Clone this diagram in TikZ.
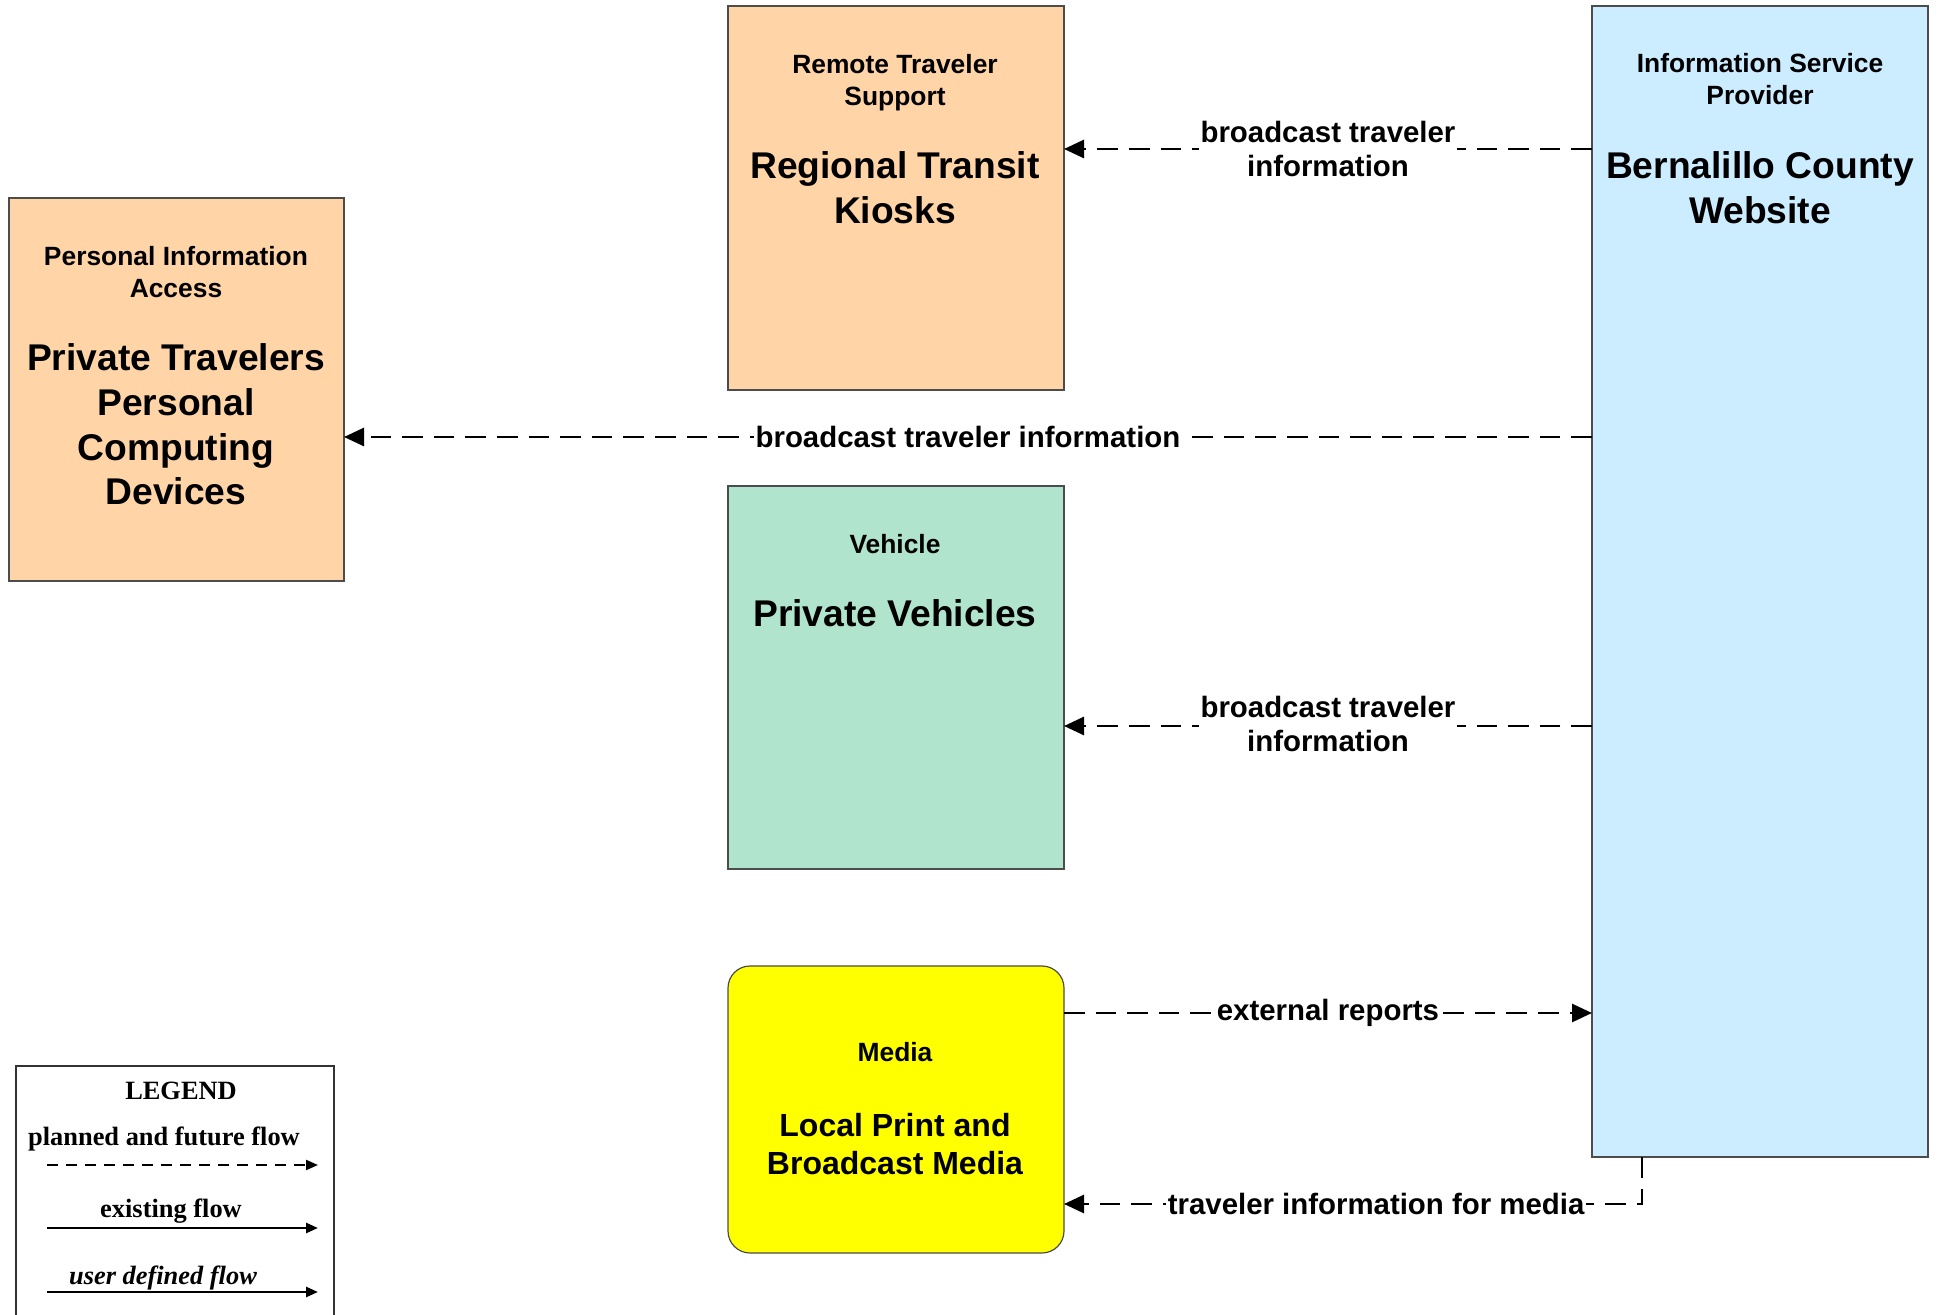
\documentclass[tikz,border=0pt]{standalone}
\usepackage{fontspec}
\setmainfont{Liberation Sans}
\newfontfamily\legendfont{Liberation Serif}
\usetikzlibrary{arrows.meta}
\definecolor{peach}{RGB}{255,213,168}
\definecolor{vgreen}{RGB}{176,228,204}
\definecolor{ispblue}{RGB}{204,236,255}
\definecolor{myyellow}{RGB}{255,255,0}
\begin{document}
\begin{tikzpicture}[x=0.5pt,y=-0.5pt,
  box/.style={draw=black!70, line width=0.6pt, anchor=north west, inner sep=0pt, outer sep=0pt},
  small/.style={align=center, font=\fontsize{13.2}{16}\selectfont\bfseries},
  big/.style={align=center, font=\fontsize{18.6}{22.3}\selectfont\bfseries},
  mbig/.style={align=center, font=\fontsize{16}{19}\selectfont\bfseries},
  lab/.style={fill=white, align=center, inner sep=0.8pt, font=\fontsize{14.7}{17.3}\selectfont\bfseries},
  flow/.style={draw, line width=1.4pt, dash pattern=on 10.3pt off 5.5pt, -{Triangle[length=10pt,width=9pt]}},
  legtext/.style={font=\fontsize{13.2}{16}\selectfont\legendfont\bfseries},
  legdash/.style={draw, line width=1pt, dash pattern=on 5.5pt off 4pt, -{Triangle[length=6pt,width=5pt]}},
  legsolid/.style={draw, line width=1.3pt, -{Triangle[length=6pt,width=5pt]}}
]
\useasboundingbox (0,0) rectangle (1939,1315);
\clip (0,0) rectangle (1939,1315);

% boxes
\node[box, fill=peach, minimum width=168pt, minimum height=192pt] (kiosk) at (728,6) {};
\node[box, fill=peach, minimum width=167.5pt, minimum height=191.5pt] (pers) at (9,198) {};
\node[box, fill=vgreen, minimum width=168pt, minimum height=191.5pt] (veh) at (728,486) {};
\node[box, fill=myyellow, rounded corners=11pt, minimum width=168pt, minimum height=143.5pt] (media) at (728,966) {};
\node[box, fill=ispblue, minimum width=168pt, minimum height=575.5pt] (isp) at (1592,6) {};

% box texts
\node[small] (kiosks) at (895,83) {Remote Traveler\\Support};
\node[big] (kioskb) at (895,188) {Regional Transit\\Kiosks};
\node[small] (perss) at (176,272) {Personal Information\\Access};
\node[big] (persb) at (176,424.5) {Private Travelers\\Personal\\Computing\\Devices};
\node[small] (vehs) at (895,544) {Vehicle};
\node[big] (vehb) at (895,613) {Private Vehicles};
\node[small] (medias) at (895,1052) {Media};
\node[mbig] (mediab) at (895,1144) {Local Print and\\Broadcast Media};
\node[small] (isps) at (1760,79) {Information Service\\Provider};
\node[big] (ispb) at (1760,188) {Bernalillo County\\Website};

% flows
\draw[flow] (isp.west |- 0,149) -- node[lab] (l1) {broadcast traveler\\information} (kiosk.east |- 0,149);
\draw[flow] (isp.west |- 0,437) -- node[lab] (l2) {broadcast traveler information} (pers.east |- 0,437);
\draw[flow] (isp.west |- 0,726) -- node[lab, yshift=1pt] (l3) {broadcast traveler\\information} (veh.east |- 0,726);
\draw[flow] (media.east |- 0,1013) -- node[lab] (l4) {external reports} (isp.west |- 0,1013);
\coordinate (bend) at (1642,1204);
\draw[flow] (isp.south -| bend) -- (bend) -- node[lab, pos=0.46] (l5) {traveler information for media} (media.east |- bend);

% legend
\draw[black!80, line width=0.8pt] (16,1330) -- (16,1066) -- (334,1066) -- (334,1330);
\node[legtext] (legt) at (181,1091) {LEGEND};
\node[legtext] (leg1) at (164,1139) {planned and future flow};
\coordinate (d1s) at (47,1165); \coordinate (d1e) at (318,1165);
\draw[legdash] (d1s) -- (d1e);
\node[legtext] (leg2) at (171,1211) {existing flow};
\coordinate (d2s) at (47,1228); \coordinate (d2e) at (318,1228);
\draw[legsolid] (d2s) -- (d2e);
\node[legtext, font=\fontsize{13.2}{16}\selectfont\legendfont\bfseries\itshape] (leg3) at (163,1278) {user defined flow};
\coordinate (d3s) at (47,1292); \coordinate (d3e) at (318,1292);
\draw[legsolid] (d3s) -- (d3e);
\end{tikzpicture}
\end{document}
